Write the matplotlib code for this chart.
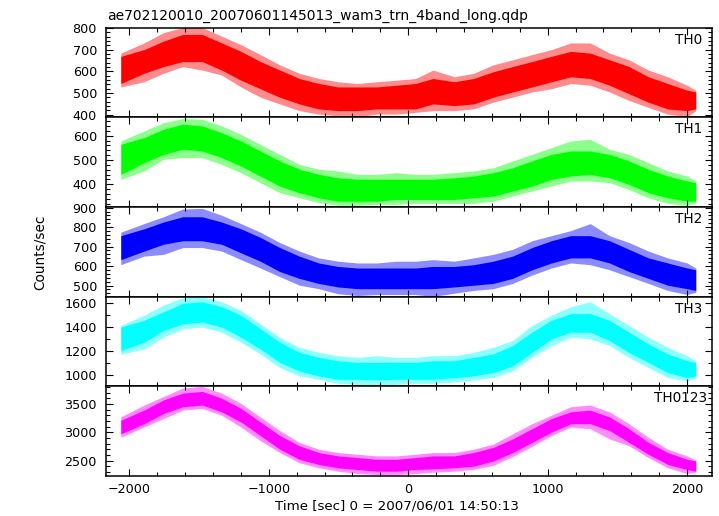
import matplotlib
matplotlib.use('Agg')
import matplotlib.pyplot as plt
from matplotlib.ticker import MultipleLocator

# ---------------- data ----------------
time_s = [-2061, -1894, -1755, -1616, -1477, -1338, -1199, -1060, -921, -781,
          -642, -503, -364, -225, -86, 53, 178, 331, 470, 610,
          749, 888, 1027, 1166, 1305, 1444, 1583, 1722, 1861, 2000, 2062]

# TH0 (red)
th0_core_hi = [669, 700, 739, 770, 770, 731, 692, 645, 606, 567, 544, 528, 528, 528, 536, 544,
               567, 552, 567, 598, 622, 645, 669, 692, 684, 653, 622, 575, 544, 513, 505]
th0_core_lo = [544, 591, 622, 645, 645, 606, 559, 520, 481, 450, 427, 419, 419, 427, 427, 427,
               450, 442, 450, 481, 505, 528, 552, 575, 567, 536, 497, 458, 427, 419, 427]
th0_spk_hi = [684, 731, 778, 802, 802, 762, 723, 677, 630, 591, 567, 552, 544, 552, 559, 567,
              606, 575, 591, 630, 653, 677, 700, 731, 731, 684, 653, 606, 575, 536, 513]
th0_spk_lo = [528, 552, 591, 622, 606, 583, 528, 481, 450, 419, 403, 395, 391, 403, 403, 411,
              419, 419, 427, 458, 481, 505, 520, 544, 536, 505, 466, 434, 403, 391, 419]

# TH1 (green)
th1_core_hi = [564, 592, 626, 647, 640, 612, 578, 537, 496, 462, 441, 427, 421, 421, 421, 421,
               421, 427, 434, 448, 468, 496, 523, 537, 537, 523, 496, 462, 434, 414, 407]
th1_core_lo = [441, 489, 523, 544, 537, 510, 475, 434, 393, 366, 345, 331, 331, 331, 338, 338,
               338, 338, 345, 352, 373, 393, 421, 434, 441, 427, 400, 366, 345, 331, 331]
th1_spk_hi = [578, 619, 653, 670, 667, 640, 605, 564, 523, 482, 462, 455, 441, 441, 448, 441,
              441, 448, 455, 468, 496, 523, 551, 578, 585, 544, 523, 489, 455, 434, 414]
th1_spk_lo = [421, 455, 503, 510, 510, 482, 448, 407, 366, 345, 325, 314, 314, 318, 318, 322,
              322, 322, 322, 331, 352, 373, 393, 414, 414, 407, 379, 345, 322, 314, 325]

# TH2 (blue)
th2_core_hi = [756, 791, 826, 853, 853, 826, 791, 747, 695, 651, 616, 598, 590, 590, 590, 590,
               598, 598, 607, 625, 651, 695, 730, 756, 756, 730, 686, 642, 616, 590, 581]
th2_core_lo = [633, 677, 712, 730, 730, 712, 668, 625, 572, 537, 511, 493, 484, 484, 484, 484,
               484, 493, 502, 511, 537, 581, 616, 642, 642, 616, 572, 537, 502, 484, 475]
th2_spk_hi = [774, 818, 853, 893, 896, 861, 818, 774, 721, 677, 642, 625, 616, 616, 625, 625,
              633, 625, 642, 660, 686, 730, 756, 782, 818, 756, 721, 677, 642, 616, 590]
th2_spk_lo = [607, 651, 660, 695, 695, 677, 633, 590, 546, 502, 484, 458, 449, 454, 454, 454,
              444, 461, 475, 484, 511, 554, 590, 616, 607, 581, 546, 511, 475, 454, 465]

# TH3 (cyan)
th3_core_hi = [1402, 1458, 1528, 1599, 1613, 1571, 1500, 1388, 1276, 1192, 1150, 1122, 1108, 1108, 1108, 1108,
               1122, 1122, 1150, 1178, 1248, 1360, 1458, 1514, 1514, 1458, 1360, 1262, 1178, 1122, 1108]
th3_core_lo = [1206, 1276, 1374, 1430, 1444, 1402, 1318, 1220, 1108, 1038, 996, 968, 968, 962, 968, 968,
               968, 982, 996, 1024, 1080, 1192, 1304, 1360, 1360, 1290, 1192, 1108, 1024, 982, 996]
th3_spk_hi = [1416, 1500, 1585, 1646, 1655, 1613, 1542, 1430, 1318, 1234, 1192, 1164, 1150, 1164, 1150, 1150,
              1164, 1164, 1192, 1234, 1290, 1416, 1500, 1571, 1613, 1514, 1416, 1318, 1234, 1164, 1120]
th3_spk_lo = [1177, 1220, 1318, 1388, 1402, 1360, 1276, 1178, 1066, 996, 968, 934, 925, 911, 925, 934,
              934, 945, 962, 982, 1038, 1150, 1248, 1318, 1304, 1248, 1150, 1066, 982, 954, 980]

# TH0123 (magenta)
th0123_core_hi = [3212, 3392, 3572, 3692, 3722, 3602, 3422, 3183, 2943, 2763, 2643, 2584, 2554, 2524, 2524, 2554,
                  2584, 2584, 2643, 2733, 2883, 3063, 3242, 3362, 3392, 3272, 3063, 2823, 2643, 2524, 2494]
th0123_core_lo = [2973, 3153, 3332, 3452, 3482, 3362, 3183, 2943, 2703, 2524, 2434, 2374, 2344, 2314, 2314, 2344,
                  2356, 2374, 2404, 2494, 2643, 2823, 3003, 3153, 3153, 3033, 2823, 2613, 2434, 2344, 2314]
th0123_spk_hi = [3272, 3482, 3632, 3782, 3811, 3692, 3512, 3272, 3033, 2823, 2703, 2643, 2613, 2584, 2584, 2613,
                 2643, 2643, 2703, 2793, 2973, 3153, 3302, 3452, 3482, 3362, 3153, 2913, 2703, 2584, 2510]
th0123_spk_lo = [2913, 3093, 3242, 3392, 3422, 3302, 3093, 2853, 2643, 2464, 2374, 2314, 2272, 2254, 2254, 2272,
                 2296, 2314, 2344, 2416, 2572, 2751, 2943, 3093, 3063, 2883, 2763, 2554, 2374, 2272, 2300]

panel_names = ["TH0", "TH1", "TH2", "TH3", "TH0123"]
panel_colors = ["#ff0000", "#00ff00", "#0000ff", "#00ffff", "#ff00ff"]
panel_ylims = [(388, 801), (307, 675), (443, 903), (909, 1655), (2229, 3812)]
panel_major = [100, 100, 100, 200, 500]
panel_minor = [20, 20, 20, 100, 100]

series = [
    (th0_core_lo, th0_core_hi, th0_spk_lo, th0_spk_hi),
    (th1_core_lo, th1_core_hi, th1_spk_lo, th1_spk_hi),
    (th2_core_lo, th2_core_hi, th2_spk_lo, th2_spk_hi),
    (th3_core_lo, th3_core_hi, th3_spk_lo, th3_spk_hi),
    (th0123_core_lo, th0123_core_hi, th0123_spk_lo, th0123_spk_hi),
]

title = "ae702120010_20070601145013_wam3_trn_4band_long.qdp"
xlabel = "Time [sec] 0 = 2007/06/01 14:50:13"
ylabel = "Counts/sec"

# ---------------- figure ----------------
W, H = 719, 516
plt.rcParams['font.family'] = ['DejaVu Sans']
fig, axes = plt.subplots(5, 1, sharex=True, figsize=(W / 100, H / 100), dpi=100)
L, R, T, B = 106, 711.5, 27.7, 476
fig.subplots_adjust(left=L / W, right=R / W, top=1 - T / H, bottom=1 - B / H, hspace=0)

label_right_px = [702.7, 702.7, 702.7, 702.7, 707.5]
panel_h = (B - T) / 5

for i, ax in enumerate(axes):
    lo, hi, slo, shi = series[i]
    c = panel_colors[i]
    ax.fill_between(time_s, slo, shi, color=c, alpha=0.45, lw=0)
    ax.fill_between(time_s, lo, hi, color=c, alpha=1.0, lw=0)
    ax.set_ylim(*panel_ylims[i])
    ax.set_xlim(-2167, 2175)
    ax.yaxis.set_major_locator(MultipleLocator(panel_major[i]))
    ax.yaxis.set_minor_locator(MultipleLocator(panel_minor[i]))
    ax.xaxis.set_major_locator(MultipleLocator(1000))
    ax.xaxis.set_minor_locator(MultipleLocator(200))
    ax.tick_params(which='both', direction='in', top=True, right=True, color='black', width=0.8)
    ax.tick_params(which='major', length=5)
    ax.tick_params(which='minor', length=2.6)
    ax.tick_params(axis='y', which='major', pad=6.5, labelsize=9.2)
    ax.tick_params(axis='x', which='major', pad=5, labelsize=9.2)
    for s in ax.spines.values():
        s.set_linewidth(1.1)
    xr = (label_right_px[i] - L) / (R - L)
    ax.text(xr, 1 - 5 / panel_h, panel_names[i], transform=ax.transAxes,
            ha='right', va='top', fontsize=9.8)

fig.text(107.5 / W, 1 - 19.5 / H, title, ha='left', va='baseline', fontsize=10)
fig.text(396.5 / W, 1 - 509.5 / H, xlabel, ha='center', va='baseline', fontsize=9.6)
fig.text(40 / W, 0.5 * ((1 - T / H) + (1 - B / H)), ylabel, ha='center', va='center',
         rotation=90, fontsize=9.8)

fig.savefig('out.png', dpi=100)
